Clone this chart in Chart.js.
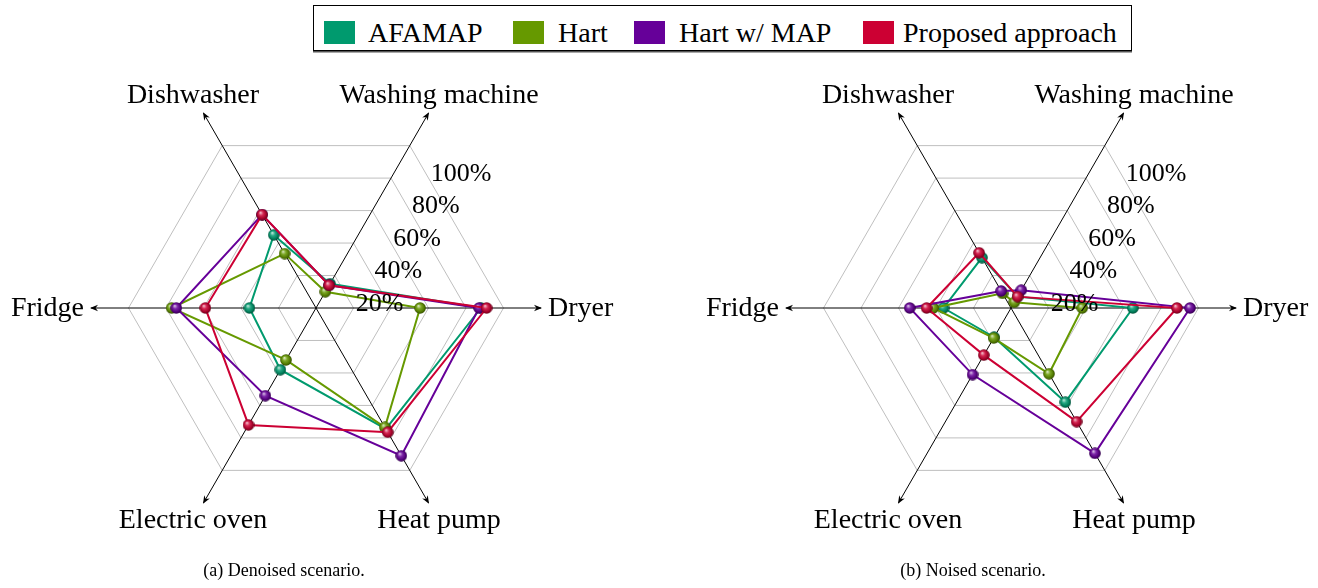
<!DOCTYPE html>
<html>
<head>
<meta charset="utf-8">
<script src="https://cdn.jsdelivr.net/npm/chart.js@4/dist/chart.umd.min.js"></script>
<style>
  html, body { margin: 0; padding: 0; background: #fff; }
  body { width: 1318px; height: 588px; overflow: hidden; position: relative;
         font-family: "Liberation Serif", "DejaVu Serif", serif; color: #000; }
  canvas { position: absolute; top: 0; }
  #legend { position: absolute; left: 313px; top: 5px; width: 817px; height: 44px;
            border: 1px solid #000; box-shadow: 0 1.5px 0 #555; background: #fff; }
  .swatch { position: absolute; top: 15px; width: 31px; height: 23px; }
  .entry { position: absolute; top: 13px; font-size: 28px; line-height: 28px; white-space: nowrap; }
  .caption { position: absolute; top: 561px; width: 400px; text-align: center;
             font-size: 18px; line-height: 18px; white-space: nowrap; }
</style>
</head>
<body>
<div id="legend"></div>
<canvas id="denoised" width="632" height="588" style="left:0px"></canvas>
<canvas id="noised" width="624" height="588" style="left:694px"></canvas>
<div class="caption" style="left:84px">(a) Denoised scenario.</div>
<div class="caption" style="left:773px">(b) Noised scenario.</div>

<script>
// Axes, clockwise starting from the right-hand (Dryer) spoke
const axisLabels = ['Dryer', 'Heat pump', 'Electric oven', 'Fridge', 'Dishwasher', 'Washing machine'];
const methodNames = ['AFAMAP', 'Hart', 'Hart w/ MAP', 'Proposed approach'];
const methodColors = ['#009a6e', '#669900', '#660099', '#cc0033'];
const tickValues = [20, 40, 60, 80, 100];
const tickLabels = ['20%', '40%', '60%', '80%', '100%'];

// Denoised scenario scores (%), in axisLabels order
const denoisedAfamap   = [88, 74.5, 38, 35.5, 45, 15];
const denoisedHart     = [55.5, 73.5, 32, 77, 33.5, 10];
const denoisedHartMap  = [87, 91, 54, 74.5, 57.5, 14];
const denoisedProposed = [91, 76.5, 72, 59, 57.5, 14];

// Noised scenario scores (%), in axisLabels order
const noisedAfamap   = [65, 58, 18, 36, 31, 7];
const noisedHart     = [38, 40.5, 18.5, 41.5, 9, 3.5];
const noisedHartMap  = [95.5, 89.5, 41, 54, 10.5, 11];
const noisedProposed = [88.5, 70, 29, 45, 34, 7];

// ---------- legend ----------
const legendSwatchX = [324, 513, 634, 863];
const legendTextX = [368, 558, 679, 903];
const legendEl = document.getElementById('legend');
methodNames.forEach((name, i) => {
  const sw = document.createElement('div');
  sw.className = 'swatch';
  sw.style.left = (legendSwatchX[i] - 314) + 'px';
  sw.style.background = methodColors[i];
  legendEl.appendChild(sw);
  const tx = document.createElement('div');
  tx.className = 'entry';
  tx.style.left = (legendTextX[i] - 314) + 'px';
  tx.textContent = name;
  legendEl.appendChild(tx);
});

// ---------- shaded ball markers ----------
function hexToRgb(h) {
  const n = parseInt(h.slice(1), 16);
  return [(n >> 16) & 255, (n >> 8) & 255, n & 255];
}
function mix(h, target, t) {
  const a = hexToRgb(h);
  return 'rgb(' + a.map((v, k) => Math.round(v + (target[k] - v) * t)).join(',') + ')';
}
function ball(color) {
  const s = 12;
  const c = document.createElement('canvas');
  c.width = s; c.height = s;
  const g = c.getContext('2d');
  const grad = g.createRadialGradient(s * 0.36, s * 0.32, 0.3, s * 0.5, s * 0.5, s * 0.5);
  grad.addColorStop(0, mix(color, [255, 255, 255], 0.75));
  grad.addColorStop(0.35, mix(color, [255, 255, 255], 0.15));
  grad.addColorStop(0.75, mix(color, [0, 0, 0], 0.2));
  grad.addColorStop(1, mix(color, [0, 0, 0], 0.55));
  g.fillStyle = grad;
  g.beginPath();
  g.arc(s / 2, s / 2, s / 2 - 0.2, 0, Math.PI * 2);
  g.fill();
  return c;
}
const balls = methodColors.map(ball);

// ---------- axis arrows, spoke names and percentage labels ----------
const spiderDecor = {
  id: 'spiderDecor',
  beforeDatasetsDraw(chart) {
    const sc = chart.scales.r;
    const ctx = chart.ctx;
    const tipDist = sc.getDistanceFromCenterForValue(sc.max);
    ctx.save();
    ctx.fillStyle = '#000';
    for (let i = 0; i < axisLabels.length; i++) {
      const p = sc.getPointPosition(i, tipDist + 1);
      const ux = (p.x - sc.xCenter) / (tipDist + 1);
      const uy = (p.y - sc.yCenter) / (tipDist + 1);
      const nx = -uy, ny = ux;
      ctx.beginPath();
      ctx.moveTo(p.x, p.y);
      ctx.lineTo(p.x - ux * 8 + nx * 3.2, p.y - uy * 8 + ny * 3.2);
      ctx.lineTo(p.x - ux * 5.5, p.y - uy * 5.5);
      ctx.lineTo(p.x - ux * 8 - nx * 3.2, p.y - uy * 8 - ny * 3.2);
      ctx.closePath();
      ctx.fill();
    }
    ctx.restore();
  },
  afterDraw(chart) {
    const sc = chart.scales.r;
    const ctx = chart.ctx;
    ctx.save();
    ctx.fillStyle = '#000';
    ctx.textBaseline = 'alphabetic';
    // spoke names
    ctx.font = '28px "Liberation Serif", serif';
    for (let i = 0; i < axisLabels.length; i++) {
      const p = sc.getPointPosition(i, 100);
      const ux = (p.x - sc.xCenter) / 100;
      const uy = (p.y - sc.yCenter) / 100;
      let x, y;
      if (Math.abs(ux) > 0.9) {
        ctx.textAlign = ux > 0 ? 'left' : 'right';
        x = sc.xCenter + ux * 232;
        y = sc.yCenter + 8;
      } else {
        ctx.textAlign = 'center';
        x = sc.xCenter + ux * 246;
        y = uy < 0 ? sc.yCenter - 205 : sc.yCenter + 220;
      }
      ctx.fillText(axisLabels[i], x, y);
    }
    // percentage labels alongside the Washing machine spoke
    ctx.font = '26px "Liberation Serif", serif';
    ctx.textAlign = 'left';
    tickValues.forEach((v, k) => {
      const p = sc.getPointPosition(5, sc.getDistanceFromCenterForValue(v));
      ctx.fillText(tickLabels[k], p.x + 21, p.y + 35);
    });
    ctx.restore();
  }
};

function makeDatasets(series) {
  // drawing order: proposed on top, then Hart w/ MAP, Hart, AFAMAP
  const stack = [3, 2, 1, 0];
  return series.map((data, i) => ({
    label: methodNames[i],
    data: data,
    borderColor: methodColors[i],
    backgroundColor: methodColors[i],
    borderWidth: 2,
    fill: false,
    pointStyle: balls[i],
    pointRadius: 5.5,
    pointHoverRadius: 5.5,
    order: stack[i]
  }));
}

function spider(id, series, padding) {
  return new Chart(document.getElementById(id), {
    type: 'radar',
    data: { labels: axisLabels, datasets: makeDatasets(series) },
    plugins: [spiderDecor],
    options: {
      responsive: false,
      animation: false,
      devicePixelRatio: 1,
      layout: { padding: padding },
      plugins: { legend: { display: false }, tooltip: { enabled: false } },
      elements: { line: { tension: 0 } },
      scales: {
        r: {
          min: 0,
          max: 120,
          startAngle: 90,
          ticks: { stepSize: 20, display: false },
          grid: {
            circular: false,
            lineWidth: 1,
            color: (c) => (c.tick && c.tick.value > 100) ? 'rgba(0,0,0,0)' : '#bfbfbf'
          },
          angleLines: { color: '#000', lineWidth: 1 },
          pointLabels: { display: false }
        }
      }
    }
  });
}

spider('denoised',
  [denoisedAfamap, denoisedHart, denoisedHartMap, denoisedProposed],
  { left: 91, right: 91, top: 83, bottom: 55 });
spider('noised',
  [noisedAfamap, noisedHart, noisedHartMap, noisedProposed],
  { left: 92, right: 82, top: 83, bottom: 55 });
</script>
</body>
</html>
